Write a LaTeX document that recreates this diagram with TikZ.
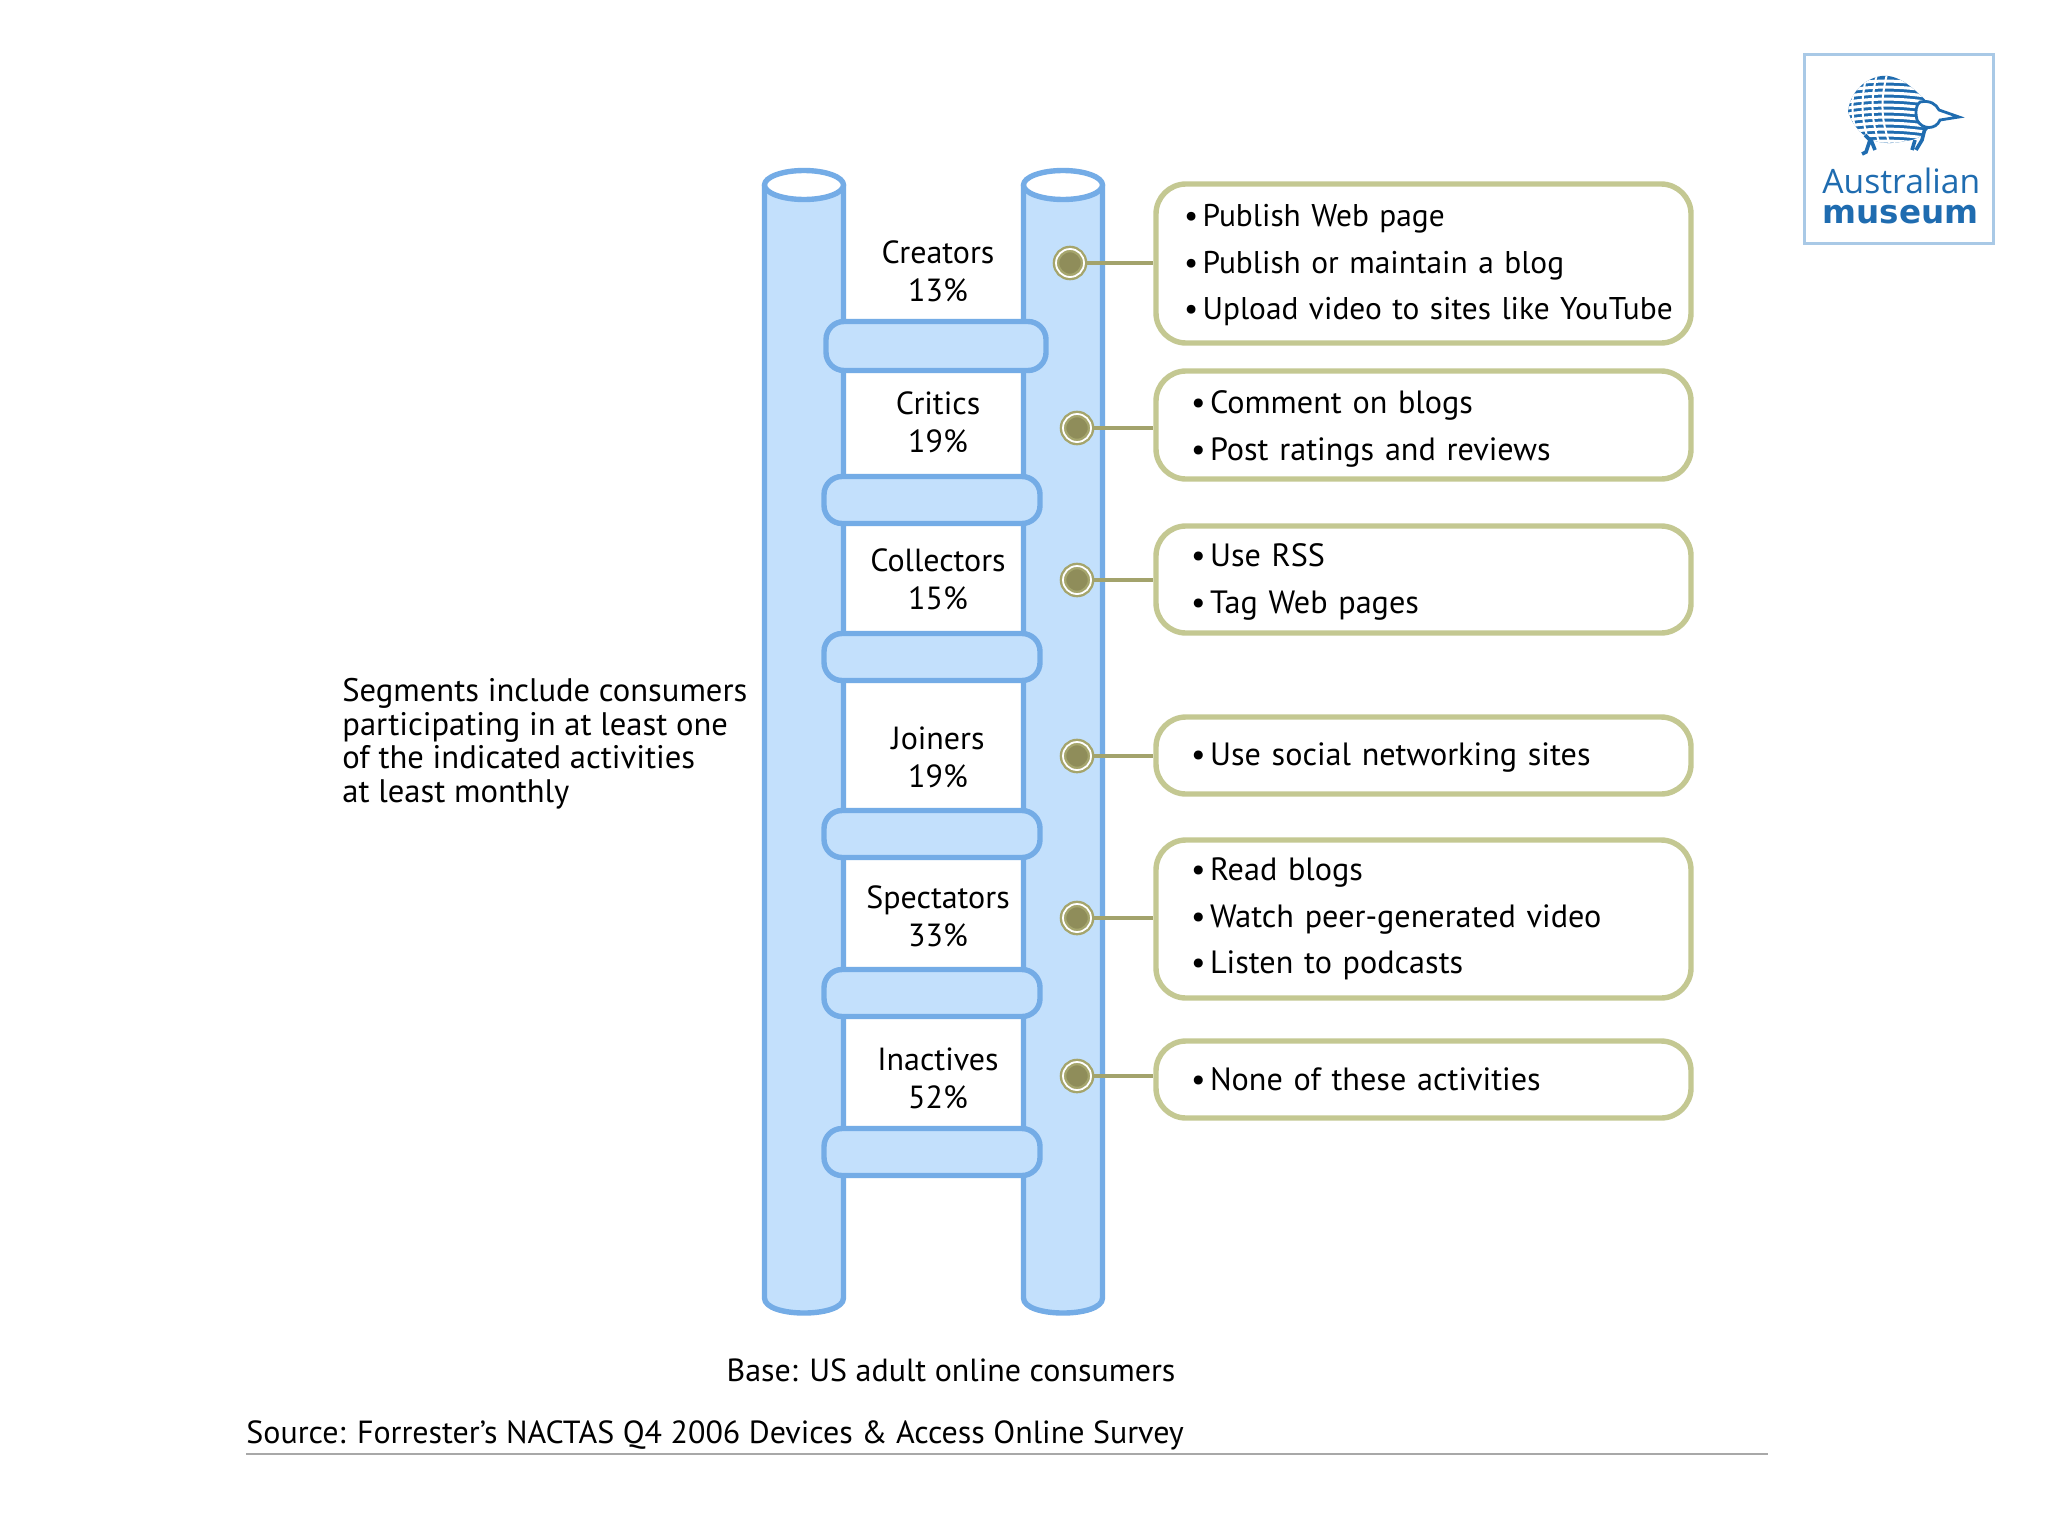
\documentclass[tikz,border=0pt]{standalone}
\usepackage{fontspec}
\setmainfont{PT Sans}
\newfontfamily\logolight{Open Sans}
\newfontfamily\logobold{DejaVu Sans}
\usetikzlibrary{calc}
\definecolor{polefill}{HTML}{C3E0FC}
\definecolor{poleline}{HTML}{74ACE6}
\definecolor{boxline}{HTML}{C4C892}
\definecolor{dotfill}{HTML}{8F8D5A}
\definecolor{dotring}{HTML}{A5A56C}
\definecolor{linkline}{HTML}{A3A36C}
\definecolor{logoblue}{HTML}{1F6CB0}
\definecolor{logoframe}{HTML}{A9C9E6}
\definecolor{rulegray}{HTML}{A8A8A8}
\tikzset{
 pole/.style={fill=polefill,draw=poleline,line width=2.7pt,line join=round},
 rung/.style={rectangle,rounded corners=9pt,fill=polefill,draw=poleline,line width=2.7pt,minimum width=108pt,minimum height=22pt,inner sep=0pt},
 seglabel/.style={align=center,font=\fontsize{16}{19}\selectfont,inner sep=0pt},
 listbox/.style={rectangle,rounded corners=15pt,draw=boxline,line width=2.7pt,fill=white,minimum width=267.5pt,text width=267.5pt,inner sep=0pt,align=left,font=\fontsize{16.1}{23.2}\selectfont},
 listboxA/.style={listbox,font=\fontsize{15.7}{23.2}\selectfont},
 listdot/.style={circle,minimum size=14pt,inner sep=0pt,fill=dotfill,draw=dotring,double=white,double distance=0.9pt,line width=1.2pt},
 linkto/.style={draw=linkline,line width=1.6pt},
 plain/.style={inner sep=0pt,anchor=base west},
}
\newcommand{\itm}{\textbullet\hspace{0.14em}}
\begin{document}
\begin{tikzpicture}[x=0.5pt,y=-0.5pt]
\useasboundingbox (0,0) rectangle (2048,1536);
\fill[white] (0,0) rectangle (2048,1536);

% poles
\foreach \xa/\xb in {764.5/843.5,1023.5/1102.5}{
 \path[pole] (\xa,185) -- (\xa,1298) .. controls (\xa,1318) and (\xb,1318) .. (\xb,1298) -- (\xb,185) -- cycle;
 \path[pole,fill=white] ({(\xa+\xb)/2},185) ellipse [x radius=39.5, y radius=14.5];
}
% rungs
\node[rung,minimum width=110pt,minimum height=24.5pt] (r1) at (936,346) {};
\node[rung,minimum height=23.5pt] (r2) at (932,500) {};
\node[rung,minimum height=23.5pt] (r3) at (932,657) {};
\node[rung,minimum height=23.5pt] (r4) at (932,834) {};
\node[rung,minimum height=23.5pt] (r5) at (932,993) {};
\node[rung,minimum height=23.5pt] (r6) at (932,1152) {};

% segment labels
\node[seglabel] (s1) at (938,271) {Creators\\13\%};
\node[seglabel] (s2) at (938,422) {Critics\\19\%};
\node[seglabel] (s3) at (938,579) {Collectors\\15\%};
\node[seglabel] (s4) at (938,757) {Joiners\\19\%};
\node[seglabel] (s5) at (938,916) {Spectators\\33\%};
\node[seglabel] (s6) at (938,1078) {Inactives\\52\%};

% activity boxes
\node[listboxA,minimum height=79.5pt] (b1) at (1423.5,263.5) {\rule{0pt}{13pt}\hspace{14pt}\itm Publish Web page\\\hspace{14pt}\itm Publish or maintain a blog\\\hspace{14pt}\itm Upload video to sites like YouTube};
\node[listbox,minimum height=54pt] (b2) at (1423.5,425) {\rule{0pt}{15.5pt}\hspace{17.5pt}\itm Comment on blogs\\\hspace{17.5pt}\itm Post ratings and reviews};
\node[listbox,minimum height=53.5pt] (b3) at (1423.5,579.5) {\rule{0pt}{14pt}\hspace{17.5pt}\itm Use RSS\\\hspace{17.5pt}\itm Tag Web pages};
\node[listbox,minimum height=38.5pt] (b4) at (1423.5,755.5) {\rule{0pt}{13pt}\hspace{17.5pt}\itm Use social networking sites};
\node[listbox,minimum height=79pt] (b5) at (1423.5,919) {\hspace{17.5pt}\itm Read blogs\\\hspace{17.5pt}\itm Watch peer-generated video\\\hspace{17.5pt}\itm Listen to podcasts};
\node[listbox,minimum height=38.5pt] (b6) at (1423.5,1079.5) {\hspace{17.5pt}\itm None of these activities};

% dots and connectors
\node[listdot] (d1) at (1070,263) {};
\node[listdot] (d2) at (1077,428) {};
\node[listdot] (d3) at (1077,580) {};
\node[listdot] (d4) at (1077,756) {};
\node[listdot] (d5) at (1077,918) {};
\node[listdot] (d6) at (1077,1076) {};
\foreach \i in {1,...,6}{
 \draw[linkto] (d\i.east) -- (d\i.east -| b\i.west);
}

% left note
\node[inner sep=0pt,anchor=north west,align=left,font=\fontsize{16.3}{16.8}\selectfont] (note) at (342,678) {Segments include consumers\\participating in at least one\\of the indicated activities\\at least monthly};

% base and source
\node[inner sep=0pt,font=\fontsize{16}{18}\selectfont] (base) at (951,1370) {Base: US adult online consumers};
\node[plain,font=\fontsize{16}{18}\selectfont] (source) at (246,1443) {Source: Forrester’s NACTAS Q4 2006 Devices \& Access Online Survey};
\coordinate (ruleL) at (246,1454);
\coordinate (ruleR) at (1768,1454);
\draw[rulegray,line width=0.9pt] (ruleL) -- (ruleR);

% logo
\node[rectangle,draw=logoframe,line width=1.2pt,fill=white,minimum width=94.5pt,minimum height=94.5pt,inner sep=0pt] (logo) at (1899,149) {};
\begin{scope}
 \path[clip] (1848,112) .. controls (1850,88) and (1872,74) .. (1888,76) .. controls (1906,78) and (1920,96) .. (1930,104) .. controls (1938,122) and (1925,140) .. (1905,141) .. controls (1885,146) and (1860,144) .. (1848,112) -- cycle;
 \fill[logoblue] (1840,70) rectangle (1940,150);
 \foreach \yy in {82,88,...,142}{
  \draw[white,line width=1.5pt] (1848,\yy+2) .. controls (1875,\yy-2) and (1900,\yy-2) .. (1932,\yy+3);
 }
 \foreach \xx in {1858,1868,1878,1888}{
  \draw[white,line width=1pt] (\xx,70) .. controls (\xx-8,100) and (\xx-8,120) .. (\xx+4,150);
 }
\end{scope}
\path[draw=logoblue,line width=1.4pt,fill=white] (1920,102) .. controls (1930,100) and (1936,104) .. (1939,110) -- (1959,117) -- (1940,120) .. controls (1936,130) and (1922,130) .. (1917,120) .. controls (1915,112) and (1916,104) .. (1920,102) -- cycle;
\draw[logoblue,line width=1.8pt] (1865,135) -- (1870,140) -- (1866,152) -- (1862,154) (1871,140) -- (1875,150);
\draw[logoblue,line width=1.8pt] (1925,128) -- (1922,140) -- (1916,150) (1915,140) -- (1912,150);
\node[inner sep=0pt,anchor=base west,font=\logolight\fontsize{16.8}{20}\selectfont,text=logoblue] (logoA) at (1822,193) {Australian};
\node[inner sep=0pt,anchor=base west,font=\logobold\bfseries\fontsize{16.3}{18}\selectfont,text=logoblue] (logoB) at (1822,223) {museum};
\end{tikzpicture}
\end{document}
